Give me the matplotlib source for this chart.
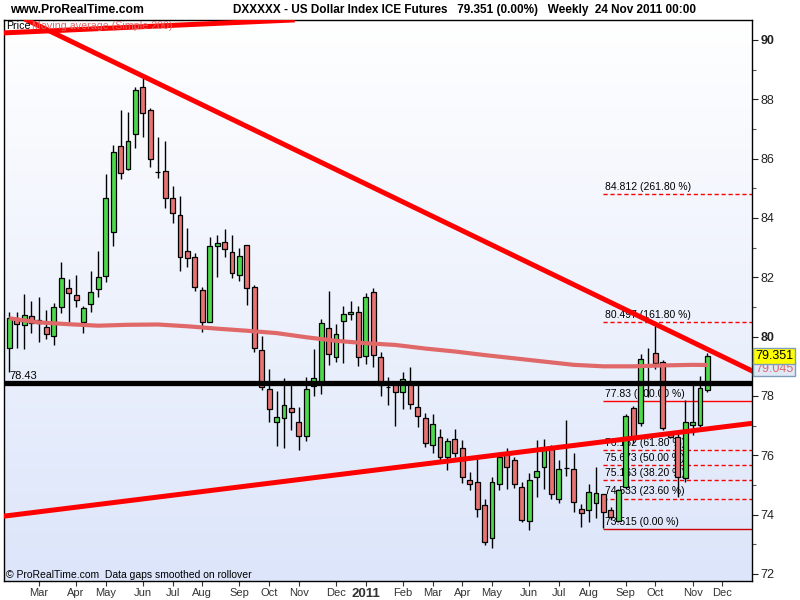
import numpy as np
import pandas as pd
import matplotlib
matplotlib.use("Agg")
import matplotlib.pyplot as plt
from matplotlib.colors import LinearSegmentedColormap

# weekly candles, week of 1 Feb 2010 .. week of 21 Nov 2011
opens = [79.61, 80.60, 80.38, 80.69, 80.45, 80.32, 80.01, 80.99, 81.63, 81.39,
         80.49, 81.09, 81.60, 82.04, 83.54, 86.42, 85.66, 86.82, 88.41, 87.63,
         85.56, 85.57, 84.66, 84.09, 82.90, 82.70, 81.56, 80.48, 83.05, 83.18,
         82.84, 82.07, 83.08, 81.66, 79.55, 78.23, 77.11, 77.25, 77.59, 77.11,
         76.66, 78.34, 78.43, 80.28, 79.30, 80.54, 80.75, 80.82, 79.34, 81.50,
         79.30, 78.29, 78.43, 78.15, 78.39, 77.62, 77.25, 76.34, 76.63, 75.94,
         76.54, 76.24, 75.16, 75.09, 74.32, 73.20, 75.02, 76.04, 75.84, 74.94,
         73.79, 75.26, 75.62, 76.20, 74.52, 75.56, 75.53, 74.18, 74.16, 74.38,
         74.69, 74.15, 73.77, 74.92, 77.59, 77.08, 79.03, 79.46, 79.16, 76.75,
         76.63, 75.23, 77.02, 77.02, 78.20]
highs = [80.82, 80.82, 81.44, 81.20, 81.33, 80.90, 81.15, 82.51, 81.94, 82.08,
         81.03, 82.21, 82.89, 85.47, 86.46, 87.64, 87.58, 88.43, 88.71, 87.70,
         86.72, 86.60, 85.08, 84.74, 83.65, 82.81, 81.67, 83.36, 83.43, 83.63,
         83.43, 82.98, 83.10, 81.74, 80.02, 78.90, 78.17, 78.61, 78.38, 77.62,
         78.63, 79.58, 80.59, 81.54, 80.43, 81.03, 81.20, 81.03, 81.46, 81.63,
         79.47, 78.63, 78.43, 78.80, 78.97, 78.43, 77.44, 77.38, 76.89, 76.57,
         76.89, 76.52, 75.45, 75.93, 74.52, 75.28, 76.12, 76.26, 75.95, 75.11,
         75.39, 76.52, 76.54, 76.35, 75.84, 77.19, 76.09, 74.35, 75.02, 75.62,
         74.69, 74.25, 74.85, 77.38, 77.66, 79.42, 79.63, 80.36, 79.20, 76.80,
         76.76, 77.87, 78.37, 78.67, 79.44]
lows = [78.82, 79.63, 79.60, 80.12, 79.83, 79.93, 79.73, 80.79, 80.48, 81.01,
        80.13, 80.84, 81.35, 81.85, 83.07, 85.33, 85.62, 86.37, 86.74, 85.73,
        85.36, 84.35, 83.82, 82.22, 82.36, 81.55, 80.17, 80.48, 82.00, 82.68,
        81.99, 81.89, 81.08, 79.47, 78.20, 77.13, 76.33, 76.25, 76.85, 76.18,
        76.49, 78.00, 78.06, 79.04, 79.15, 79.12, 80.56, 79.02, 79.09, 78.97,
        78.00, 77.70, 77.00, 77.57, 77.57, 76.97, 76.29, 76.08, 75.74, 75.51,
        75.95, 75.06, 74.83, 73.93, 72.98, 72.86, 74.83, 74.85, 74.89, 73.76,
        73.48, 74.61, 74.86, 74.52, 74.40, 75.30, 74.10, 73.57, 73.74, 73.88,
        73.56, 73.82, 73.76, 74.87, 76.41, 76.99, 77.98, 78.90, 76.85, 76.60,
        74.61, 75.11, 76.69, 76.95, 78.15]
closes = [80.62, 80.43, 80.72, 80.46, 80.55, 80.08, 80.99, 81.97, 81.46, 81.23,
          80.96, 81.50, 82.00, 84.66, 86.21, 85.53, 86.60, 88.30, 87.53, 85.98,
          85.56, 84.66, 84.16, 82.68, 82.64, 81.66, 80.48, 83.05, 83.16, 82.97,
          82.14, 82.71, 81.63, 79.61, 78.32, 77.55, 77.28, 77.69, 77.45, 76.66,
          78.23, 78.60, 80.45, 79.41, 80.08, 80.75, 80.82, 79.30, 81.33, 79.37,
          78.36, 78.29, 78.15, 78.56, 77.72, 77.32, 76.41, 77.04, 75.96, 76.49,
          76.07, 75.26, 75.02, 74.18, 73.09, 75.09, 75.93, 75.59, 75.02, 73.82,
          75.18, 75.47, 76.18, 74.69, 75.53, 75.56, 74.42, 74.05, 74.78, 74.74,
          74.10, 73.91, 74.84, 77.33, 76.63, 79.24, 79.06, 79.12, 76.91, 76.63,
          75.28, 77.14, 77.14, 78.26, 79.35]

# simple 200 moving average, read every 4 weeks
ma_weeks = [0, 4, 8, 12, 16, 20, 24, 28, 32, 36, 40, 44, 48, 52, 56, 60,
            64, 68, 72, 76, 80, 84, 88, 92, 94]
ma_vals = [80.62, 80.48, 80.42, 80.37, 80.40, 80.41, 80.35, 80.27, 80.20, 80.12,
           79.98, 79.86, 79.78, 79.72, 79.60, 79.50, 79.38, 79.27, 79.16, 79.05,
           79.00, 79.00, 79.03, 79.05, 79.045]

# trend lines, two anchor points each (week index, price)
down_pts = [(2.5, 90.66), (99.4, 78.92)]
top_pts = [(-0.7, 90.24), (38.2, 90.675)]
up_pts = [(-0.7, 73.95), (99.4, 77.06)]

support = 78.43
fib_levels = [84.812, 80.497, 77.83, 76.182, 75.673, 75.163, 74.533, 73.515]
fib_pcts = ["261.80", "161.80", "100.00", "61.80", "50.00", "38.20", "23.60", "0.00"]
fib_start = 79.9

last_price = 79.351
last_ma = 79.045

GREEN = "#4cd94c"
RED = "#e87373"
MA_COL = "#e06868"
TXT = ["Liberation Sans", "DejaVu Sans"]
NARROW = ["Liberation Sans Narrow", "Liberation Sans", "DejaVu Sans"]

fig = plt.figure(figsize=(8, 6), dpi=100)
ax = fig.add_axes([4 / 800, 1 - 581 / 600, 748 / 800, 561 / 600])

# background gradient
cmap = LinearSegmentedColormap.from_list("bg", ["#ffffff", "#dce5fa"])
ax.imshow(np.linspace(0, 1, 256).reshape(-1, 1), cmap=cmap, aspect="auto",
          extent=[0, 1, 0, 1], transform=ax.transAxes, zorder=0)

x = np.arange(len(opens))
o = np.array(opens)
c = np.array(closes)
cols = [GREEN if cc >= oo else RED for oo, cc in zip(o, c)]

# fibonacci levels
for lv, pc in zip(fib_levels, fib_pcts):
    if pc == "100.00":
        ax.hlines(lv, fib_start, 101, color="red", lw=1, zorder=1)
    elif pc == "0.00":
        ax.hlines(lv, fib_start, 101, color="#cc0000", lw=1, zorder=1)
    else:
        ax.hlines(lv, fib_start, 101, color="red", lw=1, linestyles=(0, (3, 2)), zorder=1)
    ax.text(fib_start + 0.3, lv + 0.08, f"{lv} ({pc} %)", fontsize=7.5,
            family=TXT, va="bottom", ha="left", zorder=1)

# candles
ax.vlines(x, lows, highs, color="black", lw=1, zorder=2)
ax.bar(x, np.abs(c - o), bottom=np.minimum(o, c), width=0.66, color=cols,
       edgecolor="black", linewidth=0.9, zorder=3)

ax.plot(ma_weeks, ma_vals, color=MA_COL, lw=3, zorder=4, solid_capstyle="butt")
ax.axhline(support, color="black", lw=3.8, zorder=4)
ax.text(0.0, support + 0.08, "78.43", fontsize=8, family=TXT, va="bottom", zorder=4)

for pts in (down_pts, top_pts, up_pts):
    ax.axline(pts[0], pts[1], color="#ff0000", lw=3.6, zorder=5)

ax.set_xlim(-0.7, 100)
ax.set_ylim(71.764, 90.674)

# month ticks at first weekly bar of each month
weeks = pd.date_range("2010-02-01", periods=98, freq="7D")
tick_pos, tick_lab = [], []
for i in range(1, len(weeks)):
    if weeks[i].month != weeks[i - 1].month:
        tick_pos.append(i)
        tick_lab.append(str(weeks[i].year) if weeks[i].month == 1 else weeks[i].strftime("%b"))
ax.set_xticks(tick_pos, labels=tick_lab)
for t in ax.get_xticklabels():
    t.set_family(NARROW)
    t.set_fontsize(8)
    if t.get_text() == "2011":
        t.set_fontweight("bold")
        t.set_fontsize(9.5)
        t.set_family(TXT)
ax.tick_params(axis="x", length=3.5, width=0.8, pad=1.5, colors="#333333")

ax.yaxis.tick_right()
yt = list(range(72, 91, 2))
ax.set_yticks(yt, labels=[str(v) for v in yt])
ax.set_yticks(list(range(73, 91, 2)), minor=True)
for t in ax.get_yticklabels():
    t.set_family(TXT)
    t.set_fontsize(9)
    if t.get_text() in ("80", "90"):
        t.set_fontweight("bold")
ax.tick_params(axis="y", which="major", length=4, width=0.8, pad=2, colors="#222222")
ax.tick_params(axis="y", which="minor", length=3, width=0.8, color="#555555")
for s in ax.spines.values():
    s.set_color("black")
    s.set_linewidth(1)

# price tags on the right axis
trans = ax.get_yaxis_transform()
ax.text(1.004, last_ma - 0.12, f"{last_ma:.3f}", transform=trans, fontsize=9,
        family=TXT, color=MA_COL, va="center", ha="left", clip_on=False, zorder=6,
        bbox=dict(boxstyle="square,pad=0.15", fc="#dfe8f7", ec="#7f9db9", lw=1))
ax.text(1.004, last_price, f"{last_price:.3f}", transform=trans, fontsize=9,
        family=TXT, color="black", va="center", ha="left", clip_on=False, zorder=7,
        bbox=dict(boxstyle="square,pad=0.15", fc="#ffff00", ec="#7f9db9", lw=1))

# header and notes
fig.text(10 / 800, 1 - 10 / 600, "www.ProRealTime.com", fontsize=8.7, weight="bold",
         family=TXT, va="center")
fig.text(233 / 800, 1 - 10 / 600,
         "DXXXXX - US Dollar Index ICE Futures   79.351 (0.00%)   Weekly  24 Nov 2011 00:00",
         fontsize=8.5, weight="bold", family=TXT, va="center")
fig.text(6 / 800, 1 - 26 / 600, "Price", fontsize=7.7, family=TXT, va="center")
fig.text(32 / 800, 1 - 26 / 600, "Moving average (Simple 200)", fontsize=7.7,
         family=TXT, color=MA_COL, va="center")
fig.text(6 / 800, 1 - 575 / 600, "\u00a9 ProRealTime.com  Data gaps smoothed on rollover",
         fontsize=7.5, family=NARROW, va="center")

fig.savefig("out.png", dpi=100)
